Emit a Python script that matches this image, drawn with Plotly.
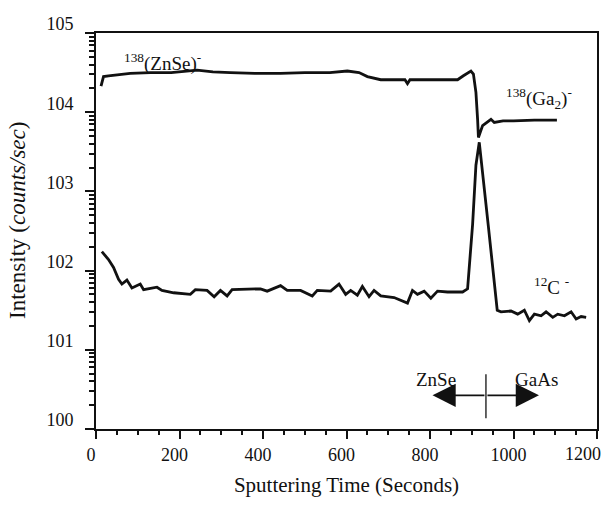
import plotly.graph_objects as go

# ---- data ----
t_m138 = [12, 18, 30, 60, 82, 130, 180, 242, 280, 322, 380, 442, 500, 560, 602, 630, 650, 682,
          720, 740, 746, 752, 800, 850, 866, 880, 898, 904, 910, 914, 916, 926, 946, 954, 975,
          1000, 1050, 1104]
v_m138 = [21380, 28180, 28840, 30200, 30900, 31620, 31620, 33880, 32360, 31620, 30900, 30900,
          31620, 31620, 33110, 31620, 28180, 25700, 25700, 25700, 22910, 25700, 25700, 25700,
          25700, 28840, 33110, 30200, 17780, 8128, 4786, 6761, 8128, 7413, 7762, 7762, 7943, 7943]

t_c12 = [14, 30, 42, 54, 62, 74, 86, 98, 106, 114, 146, 158, 186, 226, 238, 266, 283, 298,
         314, 326, 370, 394, 410, 442, 458, 490, 518, 530, 562, 582, 598, 610, 626, 638, 654,
         666, 682, 714, 746, 758, 770, 786, 802, 818, 842, 878, 890, 902, 910, 918, 940, 961,
         970, 994, 1010, 1026, 1038, 1050, 1066, 1078, 1094, 1106, 1122, 1138, 1150, 1162, 1174]
v_c12 = [173.8, 138.0, 109.6, 77.6, 67.6, 75.9, 60.3, 64.6, 67.6, 57.5, 61.7, 56.2, 52.5, 50.1,
         57.5, 56.2, 46.8, 56.2, 47.9, 57.5, 58.9, 58.9, 55.0, 64.6, 56.2, 56.2, 47.9, 56.2, 55.0,
         67.6, 50.1, 56.2, 49.0, 63.1, 46.8, 56.2, 47.9, 45.7, 38.9, 56.2, 50.1, 55.0, 44.7, 55.0,
         53.7, 53.7, 58.9, 380.2, 2138, 4169, 354.8, 31.6, 30.2, 30.9, 28.2, 31.6, 23.4, 28.2,
         26.9, 30.2, 25.7, 28.2, 26.9, 30.2, 24.5, 26.3, 25.7]

# interface marker (ZnSe | GaAs)
t_interface = [934, 934]
v_interface = [1.37, 4.9]

y_tickvals = [1, 10, 100, 1000, 10000, 100000]
y_ticktext = ["100", "101", "102", "103", "104", "105"]
x_tickvals = [0, 200, 400, 600, 800, 1000, 1200]
x_ticktext = ["0", "200", "400", "600", "800", "1000", ""]   # "1200" drawn as an annotation
last_x_label = "1200"

FONT = "Liberation Serif"
BLACK = "#111111"

fig = go.Figure()
fig.add_trace(go.Scatter(x=t_m138, y=v_m138, mode="lines",
                         line=dict(color=BLACK, width=2.8), showlegend=False))
fig.add_trace(go.Scatter(x=t_c12, y=v_c12, mode="lines",
                         line=dict(color=BLACK, width=2.8), showlegend=False))
fig.add_trace(go.Scatter(x=t_interface, y=v_interface, mode="lines",
                         line=dict(color=BLACK, width=1.3), showlegend=False))

annos = [
    dict(x=160, y=4.63, text="<sup>138</sup>(ZnSe)<sup>-</sup>"),
    dict(x=1062, y=4.17, text="<sup>138</sup>(Ga<sub>2</sub>)<sup>-</sup>"),
    dict(x=1090, y=1.80, text="<sup>12</sup>C <sup>-</sup>"),
    dict(x=814, y=0.63, text="ZnSe"),
    dict(x=1054, y=0.63, text="GaAs"),
]
for a in annos:
    fig.add_annotation(x=a["x"], y=a["y"], xref="x", yref="y", text=a["text"],
                       showarrow=False, font=dict(family=FONT, size=19, color=BLACK))

# arrows
for tip in (806, 1061):
    fig.add_annotation(x=tip, y=0.425, ax=934, ay=0.425, xref="x", yref="y",
                       axref="x", ayref="y", text="", showarrow=True,
                       arrowhead=2, arrowsize=2.9, arrowwidth=1.6, arrowcolor=BLACK)

# last x tick label (kept inside the page)
fig.add_annotation(x=1167, y=-0.0625, xref="x", yref="paper", text=last_x_label,
                   showarrow=False, xanchor="center", yanchor="middle",
                   font=dict(family=FONT, size=18, color=BLACK))

# y axis title as rotated annotation
fig.add_annotation(x=-0.158, y=0.5275, xref="paper", yref="paper",
                   text="Intensity (<i>counts/sec</i>)", textangle=-90, showarrow=False,
                   xanchor="center", yanchor="middle",
                   font=dict(family=FONT, size=23, color=BLACK))

fig.update_layout(
    width=611, height=505,
    margin=dict(l=96, r=14, t=33, b=72),
    paper_bgcolor="white", plot_bgcolor="white",
    font=dict(family=FONT, size=18, color=BLACK),
)
fig.update_xaxes(range=[0, 1200], tickvals=x_tickvals, ticktext=x_ticktext, ticks="outside",
                 ticklen=8, tickwidth=2, tickcolor=BLACK, showline=True, linewidth=2,
                 linecolor=BLACK, mirror=True, showgrid=False, zeroline=False,
                 ticklabelshift=-5,
                 minor=dict(dtick=50, ticks="outside", ticklen=4, tickwidth=1.5, tickcolor=BLACK),
                 title=dict(text="Sputtering Time (Seconds)", font=dict(size=21), standoff=14),
                 tickfont=dict(size=18))
fig.update_yaxes(type="log", range=[0, 5], tickvals=y_tickvals, ticktext=y_ticktext,
                 ticks="outside", ticklen=9, tickwidth=2, tickcolor=BLACK, showline=True,
                 linewidth=2, linecolor=BLACK, mirror=True, showgrid=False, zeroline=False,
                 ticklabelstandoff=8, ticklabelshift=-9,
                 minor=dict(dtick="D1", ticks="outside", ticklen=5, tickwidth=1.5, tickcolor=BLACK),
                 tickfont=dict(size=18))

# remove the browser's default 8px page margin so the 611x505 figure fills the window
fig.write_html("out.html", config={"displayModeBar": False},
               post_script="document.body.style.margin='0px';")
